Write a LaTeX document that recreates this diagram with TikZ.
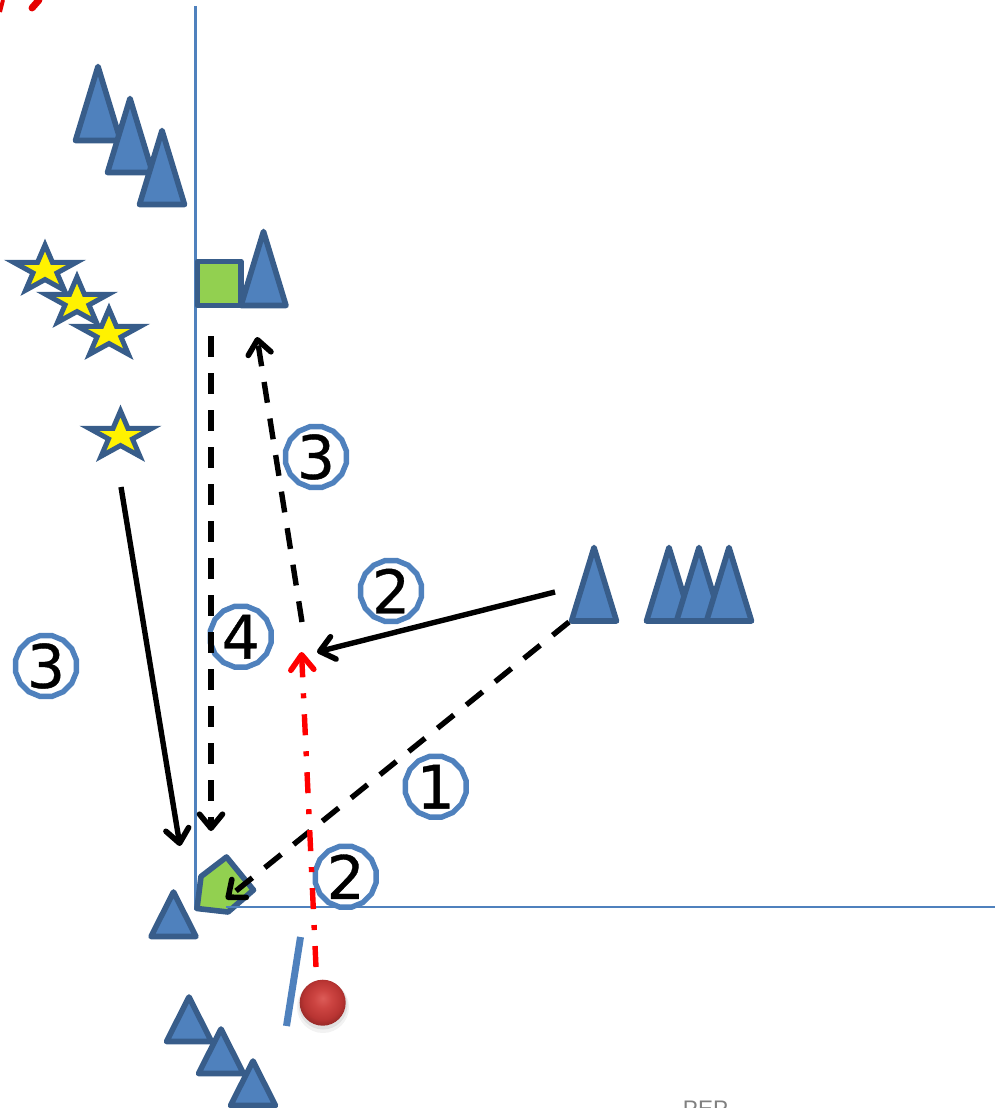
\documentclass[tikz,border=0pt]{standalone}
\usepackage{fontspec}
\setmainfont{DejaVu Sans}[FakeBold=0.6]
\newfontfamily\capfont{Liberation Sans}
\usetikzlibrary{arrows.meta,shapes.geometric}
\definecolor{axisblue}{HTML}{4F81BD}
\definecolor{edgeblue}{HTML}{385D8A}
\definecolor{leaf}{HTML}{92D050}
\definecolor{ballA}{HTML}{DC5C58}
\definecolor{ballB}{HTML}{CC4441}
\definecolor{ballC}{HTML}{B83432}
\definecolor{ballD}{HTML}{8C2624}
\pgfdeclareradialshading{redball}{\pgfpoint{0bp}{5bp}}{color(0bp)=(ballA); color(10bp)=(ballB); color(21bp)=(ballC); color(29bp)=(ballD); color(50bp)=(ballD)}
\tikzset{
  x=1pt,y=-1pt,
  axisline/.style={draw=axisblue,line width=2.6pt},
  token/.style={draw=edgeblue,fill=axisblue,line width=5.6pt,line join=round},
  greenbox/.style={draw=edgeblue,fill=leaf,line width=5.6pt,line join=round},
  startoken/.style={draw=edgeblue,fill=yellow,line width=5pt,line join=miter,miter limit=10},
  numbadge/.style={regular polygon,regular polygon sides=16,draw=axisblue,fill=white,line width=5.4pt,
     minimum size=62pt,inner sep=-12pt,font=\fontsize{60pt}{60pt}\selectfont,text=black},
  barb/.tip={Straight Barb[length=14pt,width=23pt,line width=5.6pt,round]},
  solidarrow/.style={draw=black,line width=5.4pt,-{barb}},
  dashedarrow/.style={draw=black,line width=5.4pt,dash pattern=on 21pt off 16pt,-{barb[]}},
  redarrow/.style={draw=red,line width=5.4pt,dash pattern=on 21pt off 16pt on 5pt off 16pt,-{Straight Barb[length=15pt,width=23pt,line width=5.6pt,round]}},
}
\newcommand{\tok}[5]{% name, apex x, top y, base y, half width
  \coordinate (#1) at (#2,#4);
  \draw[token] (#2,#3) -- ({#2-#5},#4) -- ({#2+#5},#4) -- cycle;}
\newcommand{\startok}[3]{%
  \coordinate (#1) at (#2,#3);
  \draw[startoken,shift={(#2,#3)},x=33pt,y=25pt]
   (0,1)--(.2245,.309)--(.951,.309)--(.363,-.118)--(.588,-.809)--(0,-.382)--(-.588,-.809)--(-.363,-.118)--(-.951,.309)--(-.2245,.309)--cycle;}
\begin{document}
\begin{tikzpicture}
\useasboundingbox (0,0) rectangle (995,1108);
\clip (0,0) rectangle (995,1108);
% named free ends
\coordinate (axisTop) at (195.5,6);
\coordinate (origin) at (195.5,910);
\coordinate (axisStart) at (226,907);
\coordinate (axisEnd) at (995,907);
\coordinate (smudgeA) at (39,0);
\coordinate (smudgeB) at (32,8);
\coordinate (smudgeC) at (3,0);
\coordinate (smudgeD) at (0,12);
\coordinate (wallTop) at (300.5,937);
\coordinate (wallBottom) at (286.5,1026);
\coordinate (a1s) at (569,622);
\coordinate (a1e) at (226,899);
\coordinate (a2s) at (555,592);
\coordinate (a2e) at (317,652);
\coordinate (a3s) at (302,622);
\coordinate (a3e) at (257,337);
\coordinate (a4s) at (211,336);
\coordinate (a4e) at (211,831);
\coordinate (a5s) at (121,487);
\coordinate (a5e) at (180,846);
\coordinate (a6s) at (316,967);
\coordinate (a6e) at (301.5,652);
% smudge
\draw[red!90!black,line width=7pt,line cap=round] (smudgeA) -- (smudgeB);
\draw[red!90!black,line width=4pt] (smudgeC) -- (smudgeD);
% axes
\draw[axisline] (axisTop) -- (origin);
% tokens
\tok{t1}{98}{66.5}{140.5}{22.5}
\tok{t2}{130}{98.5}{172.5}{22.5}
\tok{t3}{162}{130.5}{204.5}{22.5}
\draw[greenbox] (197.5,261.5) rectangle (241,305.5);
\coordinate (sq) at (219,283);
\tok{t4}{263.5}{231.5}{305.5}{22.5}
\tok{t5}{594}{547.5}{621}{22.5}
\tok{t6}{669}{547.5}{621}{22.5}
\tok{t7}{699}{547.5}{621}{22.5}
\tok{t8}{729}{547.5}{621}{22.5}
\tok{t9}{173.5}{892}{936.5}{22.5}
\tok{t10}{189}{997}{1041.5}{22.5}
\tok{t11}{221}{1029}{1073.5}{22.5}
\tok{t12}{253}{1061}{1105.5}{22.5}
\startok{s1}{45}{270}
\startok{s2}{77}{302}
\startok{s3}{109}{334}
\startok{s4}{120.5}{436}
% pentagon
\draw[greenbox] (226.5,857) -- (253.5,890) -- (228,912) -- (197,908.5) -- (201,876.5) -- cycle;
\draw[axisline] (axisStart) -- (axisEnd);
% wall and ball
\draw[draw=axisblue,line width=7pt] (wallTop) -- (wallBottom);
\fill[black,opacity=.05] (323,1007) circle (26);
\fill[black,opacity=.07] (323,1005) circle (24.5);
\node[circle,minimum size=46pt,inner sep=0pt,shading=redball] (ball) at (322.7,1002.7) {};
% badges
\node[numbadge] (b1) at (435.7,786.7) {1};
\node[numbadge] (b2) at (391,591) {2};
\node[numbadge] (b3) at (345.7,876.7) {2};
\node[numbadge] (b4) at (316,457) {3};
\node[numbadge] (b5) at (46,666) {3};
\node[numbadge] (b6) at (240.7,636.7) {4};
% arrows
\draw[dashedarrow] (a1s) -- (a1e);
\draw[solidarrow] (a2s) -- (a2e);
\draw[dashedarrow] (a3s) -- (a3e);
\draw[dashedarrow] (a4s) -- (a4e);
\draw[solidarrow] (a5s) -- (a5e);
\draw[redarrow] (a6s) -- (a6e);
% cropped caption
\node[anchor=base,inner sep=0pt,text=gray,font=\capfont\fontsize{22.5pt}{22.5pt}\selectfont] (cap) at (705.5,1116) {PEP};
\end{tikzpicture}
\end{document}
